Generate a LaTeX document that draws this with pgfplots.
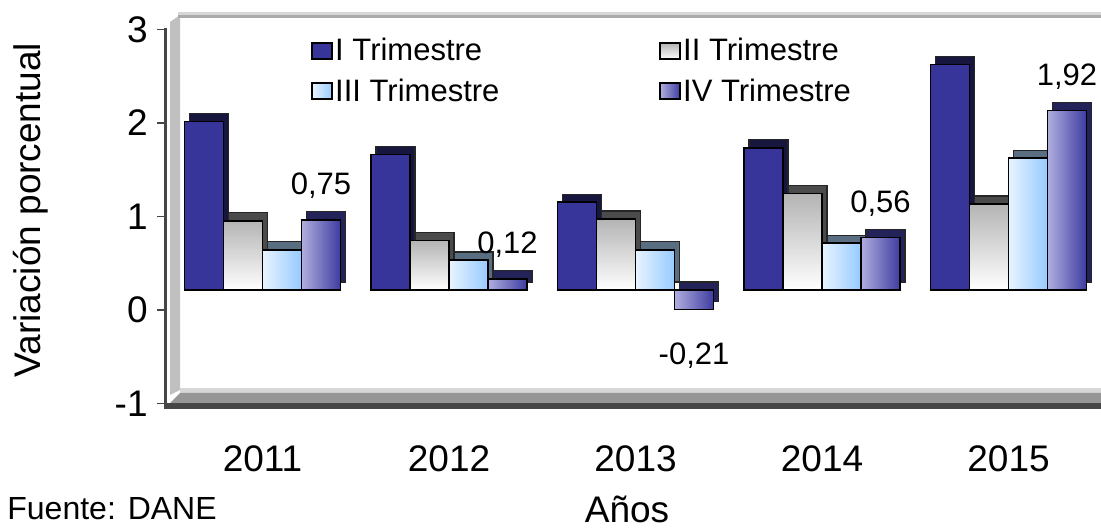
\documentclass[border=0pt]{standalone}
\usepackage{pgfplots}
\usepackage{pgfplotstable}
\pgfplotsset{compat=1.18}
\usepackage{fontspec}
\setmainfont{Liberation Sans}
\definecolor{cI}{RGB}{55,53,153}
\definecolor{cIdep}{RGB}{22,22,62}
\definecolor{cIItop}{RGB}{180,180,180}
\definecolor{cIIdep}{RGB}{75,75,75}
\definecolor{cIIIl}{RGB}{232,244,255}
\definecolor{cIIIr}{RGB}{150,202,255}
\definecolor{cIIIdep}{RGB}{90,110,130}
\definecolor{cIVl}{RGB}{176,174,222}
\definecolor{cIVr}{RGB}{62,60,160}
\definecolor{cIVdep}{RGB}{35,35,90}
\definecolor{wallg}{RGB}{192,192,192}
\definecolor{lightg}{RGB}{215,215,215}
\definecolor{midg}{RGB}{150,150,150}
\definecolor{darkg}{RGB}{70,70,70}

\pgfplotstableread{
x I II III IV
0 1.80 0.74 0.43 0.75
1 1.45 0.53 0.32 0.12
2 0.94 0.76 0.43 -0.21
3 1.52 1.03 0.50 0.56
4 2.41 0.92 1.41 1.92
}\datatab

\begin{document}
\begin{tikzpicture}
% frame decorations (behind)
\fill[wallg] (85pt,253.5pt) -- (90pt,257pt) -- (90pt,69.5pt) -- (85pt,67pt) -- cycle;
\fill[lightg] (89pt,257pt) rectangle (550.5pt,258.5pt);
\fill[midg!80] (89pt,255.5pt) rectangle (550.5pt,257pt);
\fill[lightg] (90pt,68pt) rectangle (550.5pt,70.5pt);
\fill[midg] (85pt,63pt) -- (90pt,68pt) -- (550.5pt,68pt) -- (550.5pt,63pt) -- cycle;
\fill[darkg] (82.5pt,60pt) rectangle (550.5pt,63pt);
\draw[darkg, line width=1.2pt] (82.75pt,250.5pt) -- (82.75pt,60pt);
\begin{axis}[
  at={(82.5pt,62.75pt)}, anchor=south west, scale only axis,
  width=468pt, height=187pt,
  xmin=-0.523, xmax=4.496, ymin=-1, ymax=3,
  axis x line*=bottom, axis y line*=left,
  axis line style={draw=none},
  xtick={0,1,2,3,4}, xticklabels={2011,2012,2013,2014,2015},
  ytick={-1,0,1,2,3},
  tick align=outside, major tick length=4pt,
  xtick style={draw=none},
  ytick style={draw=darkg, line width=0.8pt},
  /pgf/number format/assume math mode=true,
  ticklabel style={font=\fontsize{18.5}{22}\selectfont},
  yticklabel style={inner sep=0pt, xshift=-4.5pt},
  xticklabel style={inner sep=0pt, anchor=north, yshift=-17pt},
  clip=false,
  legend columns=2,
  legend cell align=left,
  legend image code/.code={\draw[#1, draw=black, line width=0.9pt] (0pt,-4pt) rectangle (10pt,4pt);},
  legend style={at={(0.156,0.9826)}, anchor=north west, draw=none, fill=none,
    inner sep=0pt, font=\fontsize{15.5}{18}\selectfont, row sep=5.4pt,
    nodes={inner sep=1pt},
    /tikz/every even column/.append style={column sep=79pt}},
]
% depth (top and side faces)
\addplot[forget plot, ybar, bar width=19.5pt, bar shift=-29.25pt, fill=cIdep, draw=black!85, line width=0.6pt, xshift=2.5pt, yshift=14pt] table[x=x,y=I]{\datatab};
\addplot[forget plot, ybar, bar width=19.5pt, bar shift=-9.75pt, fill=cIIdep, draw=black!85, line width=0.6pt, xshift=2.5pt, yshift=14pt] table[x=x,y=II]{\datatab};
\addplot[forget plot, ybar, bar width=19.5pt, bar shift=9.75pt, fill=cIIIdep, draw=black!85, line width=0.6pt, xshift=2.5pt, yshift=14pt] table[x=x,y=III]{\datatab};
\addplot[forget plot, ybar, bar width=19.5pt, bar shift=29.25pt, fill=cIVdep, draw=black!85, line width=0.6pt, xshift=2.5pt, yshift=14pt] table[x=x,y=IV]{\datatab};
% front faces
\addplot[forget plot, ybar, bar width=19.5pt, bar shift=-29.25pt, fill=cI, draw=black, line width=0.8pt, yshift=10pt] table[x=x,y=I]{\datatab};
\pgfplotsinvokeforeach{0,1,2,3,4}{
\addplot[forget plot, ybar, bar width=19.5pt, bar shift=-9.75pt, top color=cIItop, bottom color=white, draw=black, line width=0.8pt, yshift=10pt, restrict x to domain=#1:#1] table[x=x,y=II]{\datatab};
\addplot[forget plot, ybar, bar width=19.5pt, bar shift=9.75pt, left color=cIIIl, right color=cIIIr, draw=black, line width=0.8pt, yshift=10pt, restrict x to domain=#1:#1] table[x=x,y=III]{\datatab};
\addplot[forget plot, ybar, bar width=19.5pt, bar shift=29.25pt, left color=cIVl, right color=cIVr, draw=black, line width=0.8pt, yshift=10pt, restrict x to domain=#1:#1,
  visualization depends on={rawy \as \vIV},
  nodes near coords, nodes near coords align=vertical,
  every node near coord/.append style={font=\fontsize{15.5}{18}\selectfont, inner sep=0pt, text=black,
     xshift=29.25pt, yshift={ifthenelse(\vIV<0,-16,10.2)*1pt},
     /pgf/number format/.cd, fixed, fixed zerofill, precision=2, use comma}
  ] table[x=x,y=IV]{\datatab};
}
\addlegendimage{fill=cI}\addlegendentry{I Trimestre}
\addlegendimage{top color=cIItop, bottom color=white}\addlegendentry{II Trimestre}
\addlegendimage{left color=cIIIl, right color=cIIIr}\addlegendentry{III Trimestre}
\addlegendimage{left color=cIVl, right color=cIVr}\addlegendentry{IV Trimestre}
\end{axis}
\node[font=\fontsize{18.5}{22}\selectfont, rotate=90, anchor=center] at (15.5pt,159.5pt) {Variación porcentual};
\node[font=\fontsize{18.5}{22}\selectfont, anchor=base, inner sep=0pt] at (313.5pt,3pt) {Años};
\node[font=\fontsize{16}{19}\selectfont, anchor=base west, inner sep=0pt] at (3.5pt,4.5pt) {Fuente: DANE};
\pgfresetboundingbox
\path[use as bounding box] (0,0) rectangle (550.5pt,264.5pt);
\end{tikzpicture}
\end{document}
